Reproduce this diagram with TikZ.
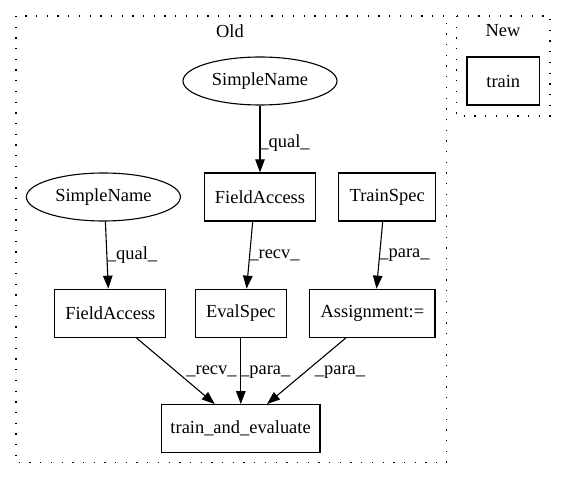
\documentclass[tikz,border=0pt]{standalone}
\usepackage{fontspec}
\setmainfont{Liberation Serif}
\usetikzlibrary{arrows.meta,calc,shapes.geometric}
\begin{document}
\begin{tikzpicture}[x=1bp,y=-1bp,
  every node/.style={font=\fontsize{18.5}{22}\selectfont},
  box/.style={draw, line width=1.3bp, rectangle, minimum height=48bp, inner sep=0pt},
  ell/.style={draw, line width=1.1bp, ellipse, minimum height=48bp, minimum width=154bp, inner sep=0pt},
  edge/.style={line width=1.1bp, -{Triangle[length=13bp,width=9.5bp]}},
  lbl/.style={inner sep=0pt},
  cluster/.style={line width=1.3bp, dash pattern=on 1.3bp off 9.4bp}]
\useasboundingbox (0,0) rectangle (567,480);
\draw[cluster] (16,16) rectangle (446.7,462.7);
\draw[cluster] (456.7,16) rectangle (550,116);
\node[lbl] (old) at (230,30.7) {Old};
\node[lbl] (new) at (503,30.7) {New};
\node[box, minimum width=72.5bp] (train) at (503.3,81) {train};

\node[ell] (sn1) at (260,81) {SimpleName};
\node[ell] (sn2) at (103.4,197) {SimpleName};
\node[box, minimum width=110.5bp] (fa1) at (260,197) {FieldAccess};
\node[box, minimum width=97bp] (ts) at (387.2,197) {TrainSpec};
\node[box, minimum width=111bp] (fa2) at (110.3,313.3) {FieldAccess};
\node[box, minimum width=91bp] (es) at (240.8,313.3) {EvalSpec};
\node[box, minimum width=125.3bp] (as) at (372.4,313.3) {Assignment:=};
\node[box, minimum width=158.5bp] (te) at (240.6,428.7) {train\_and\_evaluate};

\draw[edge] (sn1.south) -- (fa1.north);
\node[lbl] (l1) at (284.5,142.7) {\_qual\_};
\draw[edge] ($(sn2.south)+(2,0)$) -- ($(fa2.north)+(-2,0)$);
\node[lbl] (l2) at (132,255) {\_qual\_};
\draw[edge] ($(fa1.south)+(-7.3,0)$) -- ($(es.north)+(5.8,0)$);
\node[lbl] (l3) at (274.5,255) {\_recv\_};
\draw[edge] ($(ts.south)+(-4.5,0)$) -- ($(as.north)+(4.1,0)$);
\node[lbl] (l4) at (404.5,255) {\_para\_};
\draw[edge] ($(fa2.south)+(26.2,0)$) -- ($(te.north)+(-25.8,0)$);
\node[lbl] (l5) at (211.5,371.7) {\_recv\_};
\draw[edge] (es.south) -- (es.south |- te.north);
\node[lbl] (l6) at (265.3,371.7) {\_para\_};
\draw[edge] ($(as.south)+(-26.6,0)$) -- ($(te.north)+(26.4,0)$);
\node[lbl] (l7) at (340,371.7) {\_para\_};
\end{tikzpicture}
\end{document}
